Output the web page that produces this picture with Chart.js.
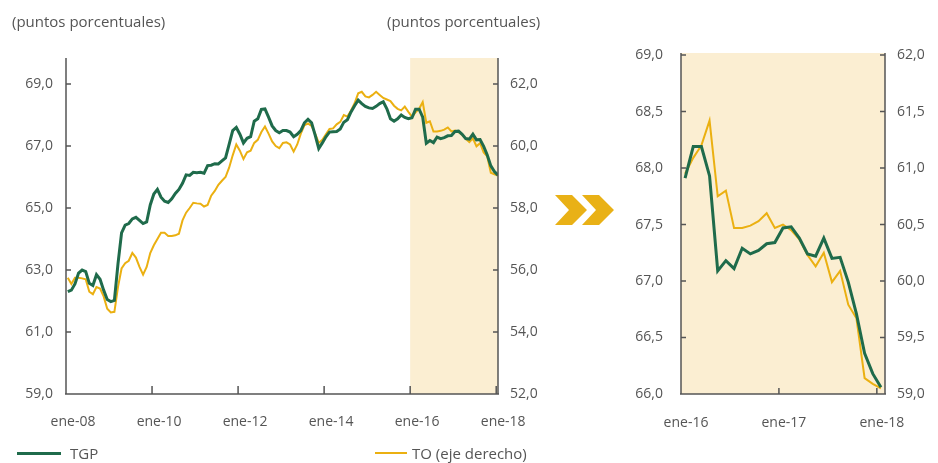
<!DOCTYPE html>
<html><head><meta charset="utf-8">
<script src="https://cdn.jsdelivr.net/npm/chart.js@4"></script>
<style>
html,body{margin:0;padding:0;background:#fff}
body{width:938px;height:463px;position:relative;overflow:hidden;font-family:'Open Sans',sans-serif;color:#555}
canvas{position:absolute;top:0}
#c1{left:0}
#c2{left:600px}
.txt{position:absolute;font-size:15px;line-height:20px;white-space:nowrap;color:#555}
.lg{position:absolute;height:3px}
</style></head>
<body>
<canvas id="c1" width="560" height="463"></canvas>
<canvas id="c2" width="338" height="463"></canvas>
<div class="txt" style="left:12px;top:11px">(puntos porcentuales)</div>
<div class="txt" style="left:387px;top:11px">(puntos porcentuales)</div>
<svg style="position:absolute;left:0;top:0" width="938" height="463">
<polygon points="555,195 572,195 587,210 572,225 555,225 569,210" fill="#E9B116"/>
<polygon points="582,195 599,195 614,210 599,225 582,225 596,210" fill="#E9B116"/>
</svg>
<div class="lg" style="left:17px;top:452px;width:44px;background:#1F6B4B"></div>
<div class="txt" style="left:70px;top:443px">TGP</div>
<div class="lg" style="left:375px;top:452px;width:32px;height:2px;background:#EBB011"></div>
<div class="txt" style="left:412px;top:443px">TO (eje derecho)</div>
<script>
// ---- data (monthly, ene-08 .. dic-15) ----
const tgp2008_2015 = [
 62.3, 62.35, 62.55, 62.9, 63.0, 62.95, 62.57, 62.5, 62.85, 62.7, 62.35, 62.05,
 61.98, 62.02, 63.2, 64.2, 64.45, 64.5, 64.65, 64.7, 64.6, 64.5, 64.55, 65.1,
 65.45, 65.6, 65.35, 65.22, 65.18, 65.3, 65.47, 65.6, 65.8, 66.07, 66.05, 66.15,
 66.14, 66.15, 66.12, 66.37, 66.38, 66.43, 66.42, 66.52, 66.62, 67.05, 67.5, 67.6,
 67.38, 67.1, 67.25, 67.3, 67.8, 67.88, 68.18, 68.2, 67.93, 67.65, 67.5, 67.43,
 67.5, 67.5, 67.45, 67.3, 67.38, 67.5, 67.75, 67.86, 67.75, 67.35, 66.92, 67.1,
 67.3, 67.45, 67.46, 67.47, 67.55, 67.77, 67.85, 68.1, 68.3, 68.48, 68.37, 68.28,
 68.23, 68.21, 68.28, 68.37, 68.43, 68.2, 67.88, 67.8, 67.88, 68.0, 67.92, 67.88
];
const to2008_2015 = [
 55.75, 55.55, 55.75, 55.75, 55.73, 55.7, 55.3, 55.22, 55.45, 55.4, 55.15, 54.75,
 54.63, 54.65, 55.45, 56.05, 56.22, 56.3, 56.55, 56.4, 56.1, 55.85, 56.1, 56.55,
 56.8, 57.0, 57.2, 57.2, 57.1, 57.1, 57.12, 57.17, 57.6, 57.85, 58.0, 58.17,
 58.15, 58.14, 58.05, 58.1, 58.4, 58.55, 58.75, 58.88, 59.0, 59.3, 59.7, 60.05,
 59.85, 59.58, 59.8, 59.85, 60.1, 60.2, 60.45, 60.63, 60.4, 60.15, 60.0, 59.93,
 60.1, 60.12, 60.05, 59.82, 60.05, 60.4, 60.67, 60.73, 60.65, 60.4, 60.1, 60.2,
 60.38, 60.55, 60.57, 60.7, 60.78, 61.0, 60.95, 61.15, 61.38, 61.7, 61.75, 61.6,
 61.57, 61.65, 61.75, 61.65, 61.55, 61.5, 61.45, 61.3, 61.2, 61.15, 61.27, 61.1
];
// ---- data (monthly, ene-16 .. ene-18) ----
const tgp2016_2018 = [67.91, 68.19, 68.19, 67.93, 67.09, 67.18, 67.11, 67.29, 67.24, 67.27, 67.33, 67.34,
 67.47, 67.48, 67.38, 67.24, 67.22, 67.38, 67.2, 67.21, 66.99, 66.71, 66.36, 66.18, 66.06];
const to2016_2018 = [60.95, 61.09, 61.2, 61.42, 60.75, 60.8, 60.47, 60.47, 60.49, 60.53, 60.6, 60.47,
 60.5, 60.45, 60.37, 60.23, 60.13, 60.25, 59.99, 60.09, 59.79, 59.67, 59.14, 59.09, 59.05];

const leftXLabels = ['ene-08','ene-10','ene-12','ene-14','ene-16','ene-18'];
const rightXLabels = ['ene-16','ene-17','ene-18'];
const leftTicksTGP = [59,61,63,65,67,69];
const leftTicksTO = [52,54,56,58,60,62];
const rightTicksTGP = [66,66.5,67,67.5,68,68.5,69];
const rightTicksTO = [59,59.5,60,60.5,61,61.5,62];

const GREEN = '#1F6B4B', GOLD = '#EBB011', SHADE = '#FBEED2', AXIS = '#555555';

Chart.defaults.font.family = "'Open Sans', sans-serif";
Chart.defaults.font.size = 14;
Chart.defaults.color = '#555';

const fmt = v => Number(v).toFixed(1).replace('.', ',');

const axisPlugin = {
  id: 'axisPlugin',
  beforeDatasetsDraw(chart, args, o) {
    const {ctx, chartArea: a, scales} = chart;
    const x0 = scales.x.getPixelForValue(o.shadeFrom);
    ctx.save();
    ctx.fillStyle = SHADE;
    ctx.fillRect(x0, a.top, a.right - x0, a.bottom - a.top);
    ctx.restore();
  },
  afterDatasetsDraw(chart, args, o) {
    const {ctx, chartArea: a, scales} = chart;
    ctx.save();
    ctx.strokeStyle = AXIS;
    ctx.lineWidth = 1.5;
    ctx.beginPath();
    ctx.moveTo(a.left, a.top); ctx.lineTo(a.left, a.bottom);
    ctx.moveTo(a.right, a.top); ctx.lineTo(a.right, a.bottom);
    ctx.moveTo(a.left - 1, a.bottom); ctx.lineTo(a.right + 1, a.bottom);
    scales.y.ticks.forEach(t => { const p = scales.y.getPixelForValue(t.value); ctx.moveTo(a.left, p); ctx.lineTo(a.left + o.yTick, p); });
    scales.y2.ticks.forEach(t => { const p = scales.y2.getPixelForValue(t.value); ctx.moveTo(a.right, p); ctx.lineTo(a.right - o.yTick, p); });
    scales.x.ticks.forEach(t => { const p = scales.x.getPixelForValue(t.value); ctx.moveTo(p, a.bottom); ctx.lineTo(p, a.bottom - o.xTick); });
    ctx.stroke();
    ctx.restore();
  }
};

function makeChart(id, cfg) {
  const tgp = cfg.tgp.map((v, i) => ({x: i + 0.5, y: v}));
  const to = cfg.to.map((v, i) => ({x: i + 0.5, y: v}));
  return new Chart(document.getElementById(id), {
    type: 'line',
    data: {datasets: [
      {label: 'TGP', data: tgp, yAxisID: 'y', borderColor: GREEN, borderWidth: 3, pointRadius: 0, tension: 0},
      {label: 'TO (eje derecho)', data: to, yAxisID: 'y2', borderColor: GOLD, borderWidth: 2, pointRadius: 0, tension: 0}
    ]},
    options: {
      responsive: false, animation: false, events: [],
      layout: {padding: {top: cfg.top, left: 0, right: 0, bottom: 0}},
      plugins: {legend: {display: false}, tooltip: {enabled: false},
        axisPlugin: {shadeFrom: cfg.shadeFrom, yTick: 5, xTick: cfg.xTick}},
      scales: {
        x: {type: 'linear', min: 0, max: cfg.xMax,
          grid: {display: false, drawTicks: false}, border: {display: false},
          afterBuildTicks: s => { s.ticks = cfg.xLabels.map((l, i) => ({value: i * cfg.xStep})); },
          ticks: {padding: cfg.xPad, labelOffset: cfg.xOff, maxRotation: 0, autoSkip: false,
            callback: v => cfg.xLabels[Math.round(v / cfg.xStep)]},
          afterFit: s => { s.height = cfg.xH; }
        },
        y: {position: 'left', min: cfg.yTicks[0], max: cfg.yMax,
          grid: {display: false, drawTicks: false}, border: {display: false},
          afterBuildTicks: s => { s.ticks = cfg.yTicks.map(v => ({value: v})); },
          ticks: {padding: cfg.yPadL, callback: fmt},
          afterFit: s => { s.width = cfg.yWL; }
        },
        y2: {position: 'right', min: cfg.y2Ticks[0], max: cfg.y2Max,
          grid: {display: false, drawTicks: false}, border: {display: false},
          afterBuildTicks: s => { s.ticks = cfg.y2Ticks.map(v => ({value: v})); },
          ticks: {padding: cfg.yPadR, callback: fmt},
          afterFit: s => { s.width = cfg.yWR; }
        }
      }
    },
    plugins: [axisPlugin]
  });
}

makeChart('c1', {
  tgp: tgp2008_2015.concat(tgp2016_2018), to: to2008_2015.concat(to2016_2018),
  xLabels: leftXLabels, xStep: 24, xMax: 120.5, shadeFrom: 96,
  yTicks: leftTicksTGP, yMax: 69.84, y2Ticks: leftTicksTO, y2Max: 62.84,
  top: 58, xH: 463 - 394, yWL: 66, yWR: 560 - 498, yPadL: 13, yPadR: 12,
  xPad: 20, xOff: 7, xTick: 8
});
makeChart('c2', {
  tgp: tgp2016_2018, to: to2016_2018,
  xLabels: rightXLabels, xStep: 12, xMax: 25, shadeFrom: 0,
  yTicks: rightTicksTGP, yMax: 69.018, y2Ticks: rightTicksTO, y2Max: 62.018,
  top: 53, xH: 463 - 394, yWL: 81, yWR: 338 - 885 + 600, yPadL: 18, yPadR: 12,
  xPad: 21, xOff: 5, xTick: 6
});
</script>
</body></html>
